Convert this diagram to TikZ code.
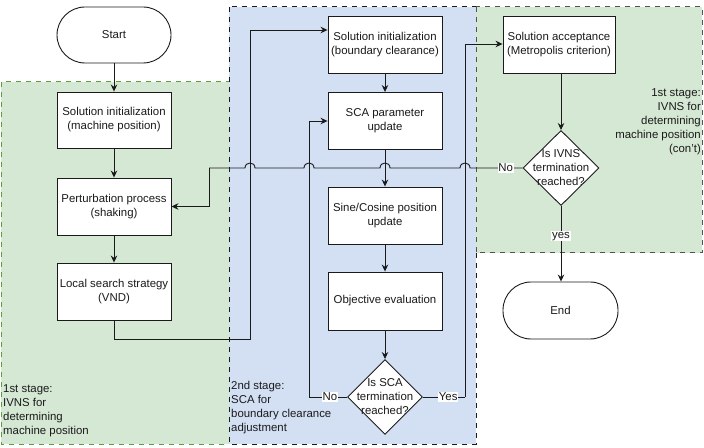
\documentclass[tikz,border=0pt]{standalone}
\usepackage{fontspec}
\setmainfont{Liberation Sans}
\usetikzlibrary{shapes.geometric,arrows.meta}
\definecolor{grfill}{HTML}{D5E8D4}
\definecolor{grline}{HTML}{5E9C3E}
\definecolor{blfill}{HTML}{D3E0F4}
\definecolor{ln}{HTML}{1A1A1A}
\begin{document}
\begin{tikzpicture}[x=1bp,y=-1bp,
  every node/.style={font=\fontsize{11.4bp}{14bp}\selectfont, text=ln},
  procbox/.style={draw=ln, fill=white, line width=0.9bp, minimum width=114bp, minimum height=57bp, align=center, inner sep=0pt},
  termbox/.style={procbox, rounded corners=28bp},
  decbox/.style={diamond, draw=ln, fill=white, line width=0.9bp, minimum width=75bp, minimum height=75bp, inner sep=0pt, aspect=1},
  dectext/.style={align=center, inner sep=0pt},
  conn/.style={draw=ln, line width=0.9bp},
  arr/.style={conn, -{Stealth[length=7bp,width=6.5bp]}},
  lbl/.style={fill=white, inner sep=0.8bp},
  stagelbl/.style={align=left, inner sep=0pt}
]
\useasboundingbox (0,0) rectangle (704,448);
% regions
\path[fill=grfill, draw=grline, dash pattern=on 5bp off 5bp, line width=1bp] (1,82) rectangle (229,444);
\path[fill=blfill, draw=ln, dash pattern=on 5bp off 5bp, line width=1bp] (229,7) rectangle (476,444);
\path[fill=grfill, draw=ln!75, dash pattern=on 5bp off 5bp, line width=1bp] (476,7) rectangle (702,253);

% stage labels
\node[stagelbl, anchor=north west] (lab1) at (3,384) {1st stage:\\IVNS for\\determining\\machine position};
\node[stagelbl, anchor=north west] (lab2) at (231,381) {2nd stage:\\SCA for\\boundary clearance\\adjustment};
\node[align=right, inner sep=0pt, anchor=north east] (lab3) at (701,88) {1st stage:\\IVNS for\\determining\\machine position\\(con't)};

% nodes
\node[termbox, minimum height=56bp] (start) at (114,35) {Start};
\node[procbox, minimum height=56bp] (sim) at (114,120) {Solution initialization\\(machine position)};
\node[procbox] (pert) at (114,206.5) {Perturbation process\\(shaking)};
\node[procbox] (ls) at (114,291.5) {Local search strategy\\(VND)};
\node[procbox] (sib) at (385,44.5) {Solution initialization\\(boundary clearance)};
\node[procbox] (scap) at (385,121) {SCA parameter\\update};
\node[procbox] (scp) at (385,215.5) {Sine/Cosine position\\update};
\node[procbox, minimum height=58bp] (obj) at (385,301) {Objective evaluation};
\node[decbox] (dsca) at (385,397) {};
\node[dectext] (dscat) at (dsca.center) {Is SCA\\termination\\reached?};
\node[procbox, minimum width=112bp] (sa) at (559,44.5) {Solution acceptance\\(Metropolis criterion)};
\node[decbox, minimum width=76bp] (divns) at (561,168) {};
\node[dectext] (divnst) at (divns.center) {Is IVNS\\termination\\reached?};
\node[termbox, minimum width=115bp] (end) at (560.5,310.5) {End};

% coordinates
\coordinate (c1) at (114,339);
\coordinate (c2) at (250,339);
\coordinate (c3) at (250,30);
\coordinate (c4) at (309,397);
\coordinate (c5) at (309,121);
\coordinate (c6) at (465,397);
\coordinate (c7) at (465,44);
\coordinate (c8) at (209,168);
\coordinate (c9) at (209,206.5);

% connectors
\draw[arr] (start) -- (sim);
\draw[arr] (sim) -- (pert);
\draw[arr] (pert) -- (ls);
\draw[arr] (ls.south) -- (c1) -- (c2) -- (c3) -- (c3 -| sib.west);
\draw[arr] (sib) -- (scap);
\draw[arr] (scap) -- (scp);
\draw[arr] (scp) -- (obj);
\draw[arr] (obj) -- (dsca);
\draw[conn] (dsca.west) -- node[lbl, pos=0.45] (nolbl) {No} (c4);
\draw[arr] (c4) -- (c5) -- (scap.west);
\draw[conn] (dsca.east) -- node[lbl, pos=0.6] (yeslbl) {Yes} (c6);
\draw[arr] (c6) -- (c7) -- (c7 -| sa.west);
\draw[arr] (sa.south -| divns.north) -- (divns.north);
\draw[arr] (divns.south) -- node[lbl, pos=0.4] (yes2) {yes} (end.north -| divns.south);
% No line with jumps
\draw[conn] (divns.west) -- node[lbl, pos=0.32] (no2) {No} (470,168)
  .. controls (470,161.33) and (460,161.33) .. (460,168) -- (390,168)
  .. controls (390,161.33) and (380,161.33) .. (380,168) -- (314,168)
  .. controls (314,161.33) and (304,161.33) .. (304,168) -- (255,168)
  .. controls (255,161.33) and (245,161.33) .. (245,168) -- (c8);
\draw[arr] (c8) -- (c9) -- (pert.east);
\end{tikzpicture}
\end{document}
